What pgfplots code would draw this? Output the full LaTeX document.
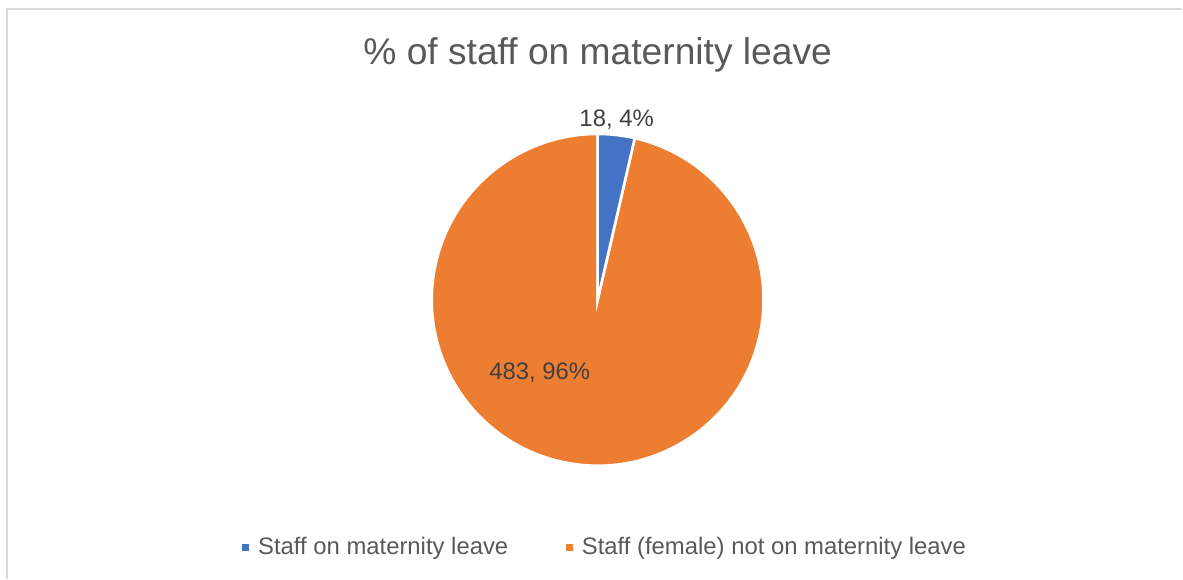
\documentclass[border=0pt]{standalone}
\usepackage{pgfplots}
\usepackage{pgfplotstable}
\pgfplotsset{compat=1.18}
\usepackage{fontspec}
\setmainfont{Liberation Sans}
\definecolor{pieblue}{HTML}{4472C4}
\definecolor{pieorange}{HTML}{ED7D31}
\definecolor{titlegray}{HTML}{595959}
\definecolor{labelgray}{HTML}{404040}
\definecolor{framegray}{HTML}{D9D9D9}
\pgfplotstableread{
idx value
1 18
2 483
}\piedata
\begin{document}
\begin{tikzpicture}
\pgfplotstablegetelem{0}{value}\of\piedata \edef\va{\pgfplotsretval}
\pgfplotstablegetelem{1}{value}\of\piedata \edef\vb{\pgfplotsretval}
\pgfmathsetmacro\angb{90-360*\va/(\va+\vb)}
\begin{axis}[width=887.25pt, height=434.25pt, scale only axis,
  xmin=0, xmax=1183, ymin=0, ymax=579, hide axis, clip=false]
\path (axis cs:0,0) rectangle (axis cs:1183,579);
% frame
\draw[framegray, line width=1.1pt] (axis cs:7,0) -- (axis cs:7,570) -- (axis cs:1183,570);
% title
\node[anchor=base, text=titlegray, font=\fontsize{27.9}{33}\selectfont] at (axis cs:598,514) {\% of staff on maternity leave};
% pie
\fill[pieorange, draw=white, line width=2pt] (axis cs:598,279) -- ++(\angb:124.5pt) arc[start angle=\angb, end angle=-270, radius=124.5pt] -- cycle;
\fill[pieblue, draw=white, line width=2pt] (axis cs:598,279) -- ++(90:124.5pt) arc[start angle=90, end angle=\angb, radius=124.5pt] -- cycle;
% data labels
\node[anchor=base, text=labelgray, font=\fontsize{17.9}{21}\selectfont] at (axis cs:617,452) {18, 4\%};
\node[anchor=base, text=labelgray, font=\fontsize{17.9}{21}\selectfont] at (axis cs:540,199) {483, 96\%};
% legend
\fill[pieblue] (axis cs:242,28) rectangle (axis cs:249,35);
\node[anchor=base west, inner sep=0pt, text=titlegray, font=\fontsize{17.9}{21}\selectfont] at (axis cs:258,24) {Staff on maternity leave};
\fill[pieorange] (axis cs:566,28) rectangle (axis cs:573,35);
\node[anchor=base west, inner sep=0pt, text=titlegray, font=\fontsize{17.9}{21}\selectfont] at (axis cs:582,24) {Staff (female) not on maternity leave};
\end{axis}
\end{tikzpicture}
\end{document}
